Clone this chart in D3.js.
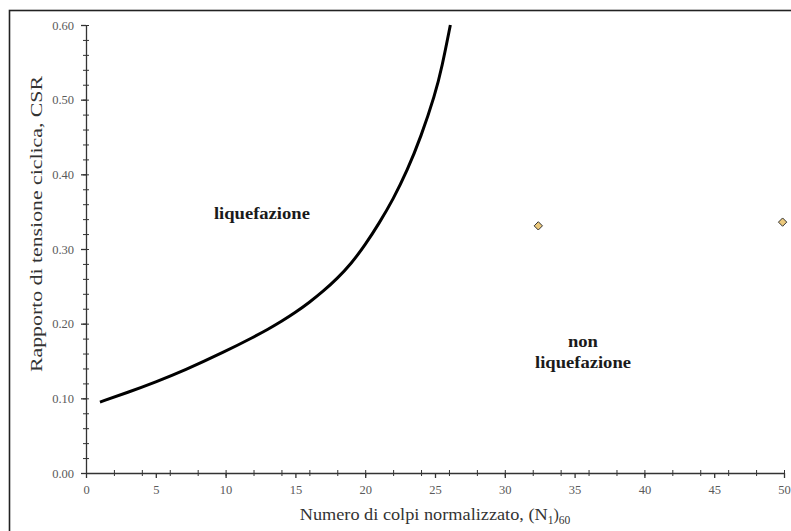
<!DOCTYPE html>
<html>
<head>
<meta charset="utf-8">
<script src="https://cdn.jsdelivr.net/npm/d3@7"></script>
<style>
  html, body { margin: 0; padding: 0; background: #fff; }
  svg { display: block; }
  text { font-family: 'Liberation Serif', 'DejaVu Serif', serif; }
</style>
</head>
<body>
<div id="viz"></div>
<script>
'use strict';

// limit curve CSR vs (N1)60
const curveN = [1, 3, 5, 7, 10, 12, 13, 14, 15, 16, 17, 18, 19, 20, 21, 22, 23, 24, 25, 25.5, 26.1];
const curveCSR = [0.095, 0.108, 0.122, 0.137, 0.163, 0.182, 0.192, 0.203, 0.215, 0.2285,
                  0.2435, 0.2605, 0.2805, 0.3055, 0.3345, 0.3665, 0.4045, 0.4505, 0.5065,
                  0.5435, 0.600];

// site points
const pointN = [32.4, 49.9];
const pointCSR = [0.331, 0.336];

const xTicks = [0, 5, 10, 15, 20, 25, 30, 35, 40, 45, 50];
const yTicks = [0, 0.1, 0.2, 0.3, 0.4, 0.5, 0.6];

const W = 791, H = 531;
const margin = {top: 25, right: 7, bottom: 58, left: 86};
const width = W - margin.left - margin.right;
const height = H - margin.top - margin.bottom;

const svg = d3.select('#viz')
  .append('svg')
    .attr('width', W)
    .attr('height', H);

// outer frame (right and bottom fall outside the window)
svg.append('rect')
  .attr('x', 9.5)
  .attr('y', 10.5)
  .attr('width', 900)
  .attr('height', 700)
  .attr('fill', 'none')
  .attr('stroke', '#222')
  .attr('stroke-width', 1.6);

const g = svg.append('g')
  .attr('transform', `translate(${margin.left},${margin.top})`);

const x = d3.scaleLinear().domain([0, 50]).range([0, width]);
const y = d3.scaleLinear().domain([0, 0.6]).range([height, 0]);

// minor ticks
g.append('g')
  .attr('transform', `translate(0,${height})`)
  .call(d3.axisBottom(x).tickValues(d3.range(0, 51, 2)).tickSize(3).tickFormat(''))
  .call(a => a.select('.domain').remove())
  .call(a => a.selectAll('line').attr('y1', -3).attr('stroke', '#333'));

g.append('g')
  .call(d3.axisLeft(y).tickValues(d3.range(0, 0.601, 0.02)).tickSize(3).tickFormat(''))
  .call(a => a.select('.domain').remove())
  .call(a => a.selectAll('line').attr('x1', 3).attr('stroke', '#333'));

// major axes
const xAxis = g.append('g')
  .attr('transform', `translate(0,${height})`)
  .call(d3.axisBottom(x).tickValues(xTicks).tickSize(5).tickSizeOuter(0).tickPadding(7));

const yAxis = g.append('g')
  .call(d3.axisLeft(y).tickValues(yTicks).tickSize(5).tickSizeOuter(0).tickPadding(7)
    .tickFormat(d3.format('.2f')));

for (const a of [xAxis, yAxis]) {
  a.select('.domain').attr('stroke', '#333').attr('stroke-width', 1.3);
  a.selectAll('line').attr('stroke', '#333').attr('stroke-width', 1.3);
  a.selectAll('text')
    .attr('fill', '#5a5a5a')
    .style('font-family', "'Liberation Serif', serif")
    .style('font-size', '12.5px');
}

// limit curve
const curve = curveN.map((n, i) => [n, curveCSR[i]]);
g.append('path')
  .datum(curve)
  .attr('fill', 'none')
  .attr('stroke', '#000')
  .attr('stroke-width', 3)
  .attr('d', d3.line()
    .x(d => x(d[0]))
    .y(d => y(d[1]))
    .curve(d3.curveBasis));

// diamonds
g.selectAll('.pt')
  .data(pointN.map((n, i) => [n, pointCSR[i]]))
  .enter()
  .append('path')
    .attr('class', 'pt')
    .attr('transform', d => `translate(${x(d[0])},${y(d[1])})`)
    .attr('d', d3.symbol(d3.symbolDiamond2, 44))
    .attr('fill', '#ecc97c')
    .attr('stroke', '#333')
    .attr('stroke-width', 1);

// region labels
const lbl = (t, cx, cy) => g.append('text')
  .attr('x', x(cx))
  .attr('y', y(cy))
  .attr('text-anchor', 'middle')
  .attr('textLength', 96)
  .attr('lengthAdjust', 'spacingAndGlyphs')
  .style('font-size', '16.5px')
  .style('font-weight', 'bold')
  .attr('fill', '#1a1a1a')
  .text(t);

lbl('liquefazione', 12.6, 0.34);
lbl('non', 35.6, 0.169).attr('textLength', 30);
lbl('liquefazione', 35.6, 0.141);

// axis titles
const xt = svg.append('text')
  .attr('x', 435)
  .attr('y', 520)
  .attr('text-anchor', 'middle')
  .style('font-size', '16px')
  .attr('fill', '#333');
xt.append('tspan')
  .attr('textLength', 248)
  .attr('lengthAdjust', 'spacingAndGlyphs')
  .text('Numero di colpi normalizzato, (N');
xt.append('tspan').attr('dy', 4).style('font-size', '11.5px').text('1');
xt.append('tspan').attr('dy', -4).text(')');
xt.append('tspan').attr('dy', 4).style('font-size', '11.5px').text('60');

svg.append('text')
  .attr('transform', 'translate(42,224) rotate(-90)')
  .attr('text-anchor', 'middle')
  .attr('textLength', 296)
  .attr('lengthAdjust', 'spacingAndGlyphs')
  .style('font-size', '16px')
  .attr('fill', '#333')
  .text('Rapporto di tensione ciclica, CSR');
</script>
</body>
</html>
